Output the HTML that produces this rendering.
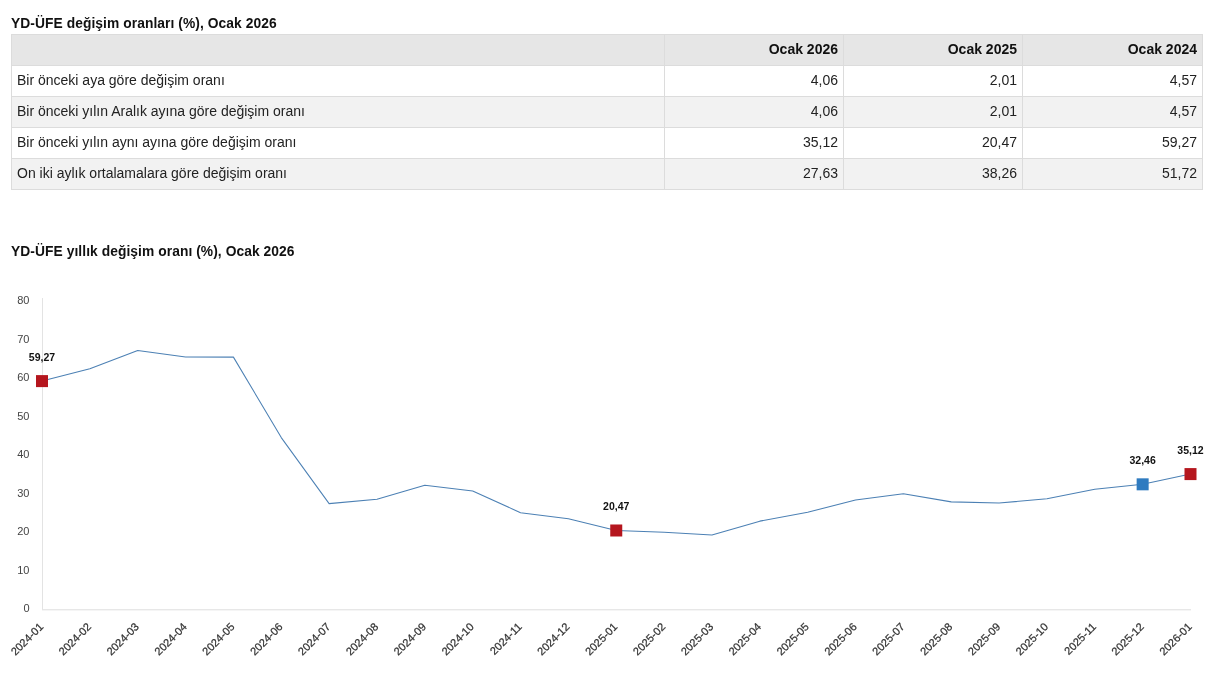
<!DOCTYPE html>
<html><head><meta charset="utf-8">
<style>
html,body{margin:0;padding:0;background:#fff;}
body{width:1218px;height:691px;position:relative;overflow:hidden;font-family:"Liberation Sans",sans-serif;}
.t{position:absolute;left:11px;font-weight:bold;font-size:13.8px;color:#111;white-space:nowrap;line-height:16px;letter-spacing:0.07px;}
.cell{position:absolute;box-sizing:border-box;font-size:14px;color:#222;white-space:nowrap;line-height:31px;}
.hd{font-weight:bold;color:#111;}
.r{text-align:right;}
.hl{position:absolute;height:1px;background:#dcdcdc;}
.vl{position:absolute;width:1px;background:#dcdcdc;}
svg{position:absolute;left:0;top:0;}
.layer{position:absolute;left:0;top:0;width:1218px;height:691px;will-change:transform;}
</style></head><body><div class="layer">

<div class="t" style="top:16px">YD-ÜFE değişim oranları (%), Ocak 2026</div>
<div style="position:absolute;left:11px;top:34px;width:1191px;height:31px;background:#e6e6e6"></div>
<div style="position:absolute;left:11px;top:65px;width:1191px;height:31px;background:#ffffff"></div>
<div style="position:absolute;left:11px;top:96px;width:1191px;height:31px;background:#f2f2f2"></div>
<div style="position:absolute;left:11px;top:127px;width:1191px;height:31px;background:#ffffff"></div>
<div style="position:absolute;left:11px;top:158px;width:1191px;height:31px;background:#f2f2f2"></div>
<div class="hl" style="left:11px;top:34px;width:1192px"></div>
<div class="hl" style="left:11px;top:65px;width:1192px"></div>
<div class="hl" style="left:11px;top:96px;width:1192px"></div>
<div class="hl" style="left:11px;top:127px;width:1192px"></div>
<div class="hl" style="left:11px;top:158px;width:1192px"></div>
<div class="hl" style="left:11px;top:189px;width:1192px"></div>
<div class="vl" style="left:11px;top:34px;height:156px"></div>
<div class="vl" style="left:664px;top:34px;height:156px"></div>
<div class="vl" style="left:843px;top:34px;height:156px"></div>
<div class="vl" style="left:1022px;top:34px;height:156px"></div>
<div class="vl" style="left:1202px;top:34px;height:156px"></div>
<div class="cell hd r" style="left:664px;top:34px;width:179px;padding-right:5px">Ocak 2026</div>
<div class="cell hd r" style="left:843px;top:34px;width:179px;padding-right:5px">Ocak 2025</div>
<div class="cell hd r" style="left:1022px;top:34px;width:180px;padding-right:5px">Ocak 2024</div>
<div class="cell" style="left:17px;top:65px">Bir önceki aya göre değişim oranı</div>
<div class="cell r" style="left:664px;top:65px;width:179px;padding-right:5px">4,06</div>
<div class="cell r" style="left:843px;top:65px;width:179px;padding-right:5px">2,01</div>
<div class="cell r" style="left:1022px;top:65px;width:180px;padding-right:5px">4,57</div>
<div class="cell" style="left:17px;top:96px">Bir önceki yılın Aralık ayına göre değişim oranı</div>
<div class="cell r" style="left:664px;top:96px;width:179px;padding-right:5px">4,06</div>
<div class="cell r" style="left:843px;top:96px;width:179px;padding-right:5px">2,01</div>
<div class="cell r" style="left:1022px;top:96px;width:180px;padding-right:5px">4,57</div>
<div class="cell" style="left:17px;top:127px">Bir önceki yılın aynı ayına göre değişim oranı</div>
<div class="cell r" style="left:664px;top:127px;width:179px;padding-right:5px">35,12</div>
<div class="cell r" style="left:843px;top:127px;width:179px;padding-right:5px">20,47</div>
<div class="cell r" style="left:1022px;top:127px;width:180px;padding-right:5px">59,27</div>
<div class="cell" style="left:17px;top:158px">On iki aylık ortalamalara göre değişim oranı</div>
<div class="cell r" style="left:664px;top:158px;width:179px;padding-right:5px">27,63</div>
<div class="cell r" style="left:843px;top:158px;width:179px;padding-right:5px">38,26</div>
<div class="cell r" style="left:1022px;top:158px;width:180px;padding-right:5px">51,72</div>
<div class="t" style="top:244px">YD-ÜFE yıllık değişim oranı (%), Ocak 2026</div>
<svg width="1218" height="691" style="font-family:'Liberation Sans',sans-serif">
<line x1="42.5" y1="298" x2="42.5" y2="609.3" stroke="#e3e3e3" stroke-width="1"/>
<line x1="42" y1="609.8" x2="1191" y2="609.8" stroke="#dddddd" stroke-width="1"/>
<text x="29.5" y="612.0" text-anchor="end" font-size="11" fill="#444">0</text>
<text x="29.5" y="573.5" text-anchor="end" font-size="11" fill="#444">10</text>
<text x="29.5" y="535.0" text-anchor="end" font-size="11" fill="#444">20</text>
<text x="29.5" y="496.5" text-anchor="end" font-size="11" fill="#444">30</text>
<text x="29.5" y="458.0" text-anchor="end" font-size="11" fill="#444">40</text>
<text x="29.5" y="419.5" text-anchor="end" font-size="11" fill="#444">50</text>
<text x="29.5" y="381.0" text-anchor="end" font-size="11" fill="#444">60</text>
<text x="29.5" y="342.5" text-anchor="end" font-size="11" fill="#444">70</text>
<text x="29.5" y="304.0" text-anchor="end" font-size="11" fill="#444">80</text>
<text transform="translate(44.0,627.5) rotate(-45)" text-anchor="end" font-size="11" fill="#333" stroke="#333" stroke-width="0.25">2024-01</text>
<text transform="translate(91.9,627.5) rotate(-45)" text-anchor="end" font-size="11" fill="#333" stroke="#333" stroke-width="0.25">2024-02</text>
<text transform="translate(139.7,627.5) rotate(-45)" text-anchor="end" font-size="11" fill="#333" stroke="#333" stroke-width="0.25">2024-03</text>
<text transform="translate(187.6,627.5) rotate(-45)" text-anchor="end" font-size="11" fill="#333" stroke="#333" stroke-width="0.25">2024-04</text>
<text transform="translate(235.4,627.5) rotate(-45)" text-anchor="end" font-size="11" fill="#333" stroke="#333" stroke-width="0.25">2024-05</text>
<text transform="translate(283.3,627.5) rotate(-45)" text-anchor="end" font-size="11" fill="#333" stroke="#333" stroke-width="0.25">2024-06</text>
<text transform="translate(331.1,627.5) rotate(-45)" text-anchor="end" font-size="11" fill="#333" stroke="#333" stroke-width="0.25">2024-07</text>
<text transform="translate(379.0,627.5) rotate(-45)" text-anchor="end" font-size="11" fill="#333" stroke="#333" stroke-width="0.25">2024-08</text>
<text transform="translate(426.8,627.5) rotate(-45)" text-anchor="end" font-size="11" fill="#333" stroke="#333" stroke-width="0.25">2024-09</text>
<text transform="translate(474.7,627.5) rotate(-45)" text-anchor="end" font-size="11" fill="#333" stroke="#333" stroke-width="0.25">2024-10</text>
<text transform="translate(522.5,627.5) rotate(-45)" text-anchor="end" font-size="11" fill="#333" stroke="#333" stroke-width="0.25">2024-11</text>
<text transform="translate(570.4,627.5) rotate(-45)" text-anchor="end" font-size="11" fill="#333" stroke="#333" stroke-width="0.25">2024-12</text>
<text transform="translate(618.2,627.5) rotate(-45)" text-anchor="end" font-size="11" fill="#333" stroke="#333" stroke-width="0.25">2025-01</text>
<text transform="translate(666.1,627.5) rotate(-45)" text-anchor="end" font-size="11" fill="#333" stroke="#333" stroke-width="0.25">2025-02</text>
<text transform="translate(714.0,627.5) rotate(-45)" text-anchor="end" font-size="11" fill="#333" stroke="#333" stroke-width="0.25">2025-03</text>
<text transform="translate(761.8,627.5) rotate(-45)" text-anchor="end" font-size="11" fill="#333" stroke="#333" stroke-width="0.25">2025-04</text>
<text transform="translate(809.7,627.5) rotate(-45)" text-anchor="end" font-size="11" fill="#333" stroke="#333" stroke-width="0.25">2025-05</text>
<text transform="translate(857.5,627.5) rotate(-45)" text-anchor="end" font-size="11" fill="#333" stroke="#333" stroke-width="0.25">2025-06</text>
<text transform="translate(905.4,627.5) rotate(-45)" text-anchor="end" font-size="11" fill="#333" stroke="#333" stroke-width="0.25">2025-07</text>
<text transform="translate(953.2,627.5) rotate(-45)" text-anchor="end" font-size="11" fill="#333" stroke="#333" stroke-width="0.25">2025-08</text>
<text transform="translate(1001.1,627.5) rotate(-45)" text-anchor="end" font-size="11" fill="#333" stroke="#333" stroke-width="0.25">2025-09</text>
<text transform="translate(1048.9,627.5) rotate(-45)" text-anchor="end" font-size="11" fill="#333" stroke="#333" stroke-width="0.25">2025-10</text>
<text transform="translate(1096.8,627.5) rotate(-45)" text-anchor="end" font-size="11" fill="#333" stroke="#333" stroke-width="0.25">2025-11</text>
<text transform="translate(1144.6,627.5) rotate(-45)" text-anchor="end" font-size="11" fill="#333" stroke="#333" stroke-width="0.25">2025-12</text>
<text transform="translate(1192.5,627.5) rotate(-45)" text-anchor="end" font-size="11" fill="#333" stroke="#333" stroke-width="0.25">2026-01</text>
<polyline points="42.00,381.11 89.85,368.67 137.71,350.58 185.56,356.93 233.42,357.12 281.27,437.59 329.12,503.62 376.98,499.19 424.83,485.33 472.69,491.10 520.54,512.66 568.40,518.82 616.25,530.49 664.10,532.30 711.96,534.99 759.81,521.13 807.67,512.28 855.52,499.96 903.38,493.80 951.23,501.88 999.08,503.04 1046.94,498.80 1094.79,489.18 1142.65,484.33 1190.50,474.09" fill="none" stroke="#4c80b4" stroke-width="1.05" stroke-linejoin="round"/>
<rect x="36.00" y="375.11" width="12" height="12" fill="#b5161e"/>
<text x="42.00" y="361.11" text-anchor="middle" font-size="10.5" font-weight="bold" fill="#111">59,27</text>
<rect x="610.25" y="524.49" width="12" height="12" fill="#b5161e"/>
<text x="616.25" y="510.49" text-anchor="middle" font-size="10.5" font-weight="bold" fill="#111">20,47</text>
<rect x="1136.65" y="478.33" width="12" height="12" fill="#2f7bc0"/>
<text x="1142.65" y="464.33" text-anchor="middle" font-size="10.5" font-weight="bold" fill="#111">32,46</text>
<rect x="1184.50" y="468.09" width="12" height="12" fill="#b5161e"/>
<text x="1190.50" y="454.09" text-anchor="middle" font-size="10.5" font-weight="bold" fill="#111">35,12</text>
</svg>
</div></body></html>
